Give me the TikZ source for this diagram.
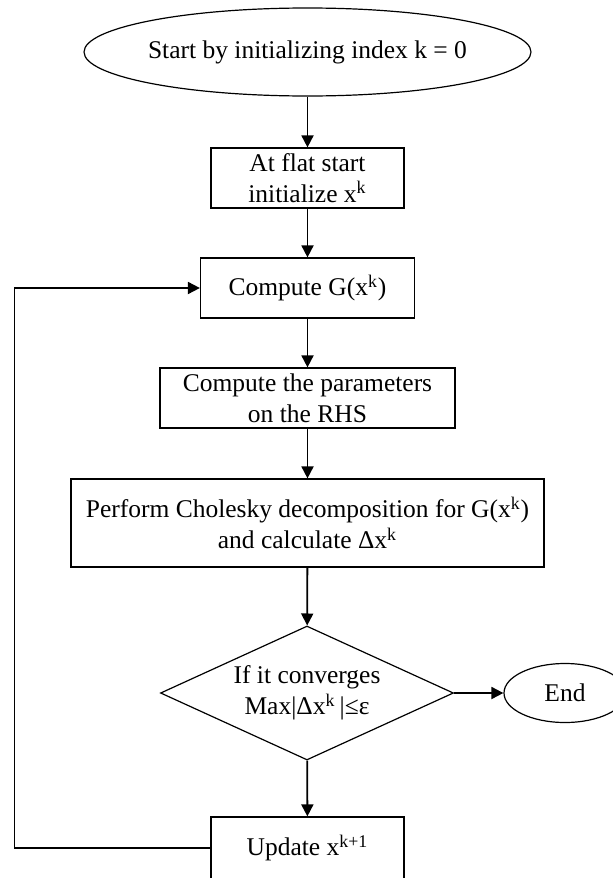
\documentclass[tikz,border=0pt]{standalone}
\usepackage{fontspec}
\setmainfont{Liberation Serif}
\usetikzlibrary{shapes.geometric,arrows.meta}

\begin{document}
\begin{tikzpicture}[
  x=0.5pt, y=-0.5pt,
  txt/.style={font=\fontsize{12.75pt}{15.5pt}\selectfont, align=center},
  procbox/.style={txt, draw, line width=0.6pt, rectangle, inner sep=2pt,
                  minimum width=#1, minimum height=30pt},
  terminal/.style={txt, draw, line width=0.6pt, ellipse, inner sep=0pt},
  decision/.style={txt, draw, line width=0.6pt, diamond, inner sep=0pt,
                   aspect=2.19, minimum width=146.5pt, minimum height=67pt},
  arr/.style={line width=0.9pt, -{Triangle[length=6pt,width=6pt]}},
  loopline/.style={line width=0.9pt}
]
\useasboundingbox (0,0) rectangle (613,878);

% terminals, process steps and the convergence test
\node[terminal, minimum width=223.5pt, minimum height=44pt] (start) at (307.5,52)
  {\makebox[0pt]{Start by initializing index k = 0}};
\node[procbox=96.5pt] (init) at (307.5,178)
  {At flat start\\initialize x\textsuperscript{k}};
\node[procbox=107pt] (gmat) at (307.5,288)
  {Compute G(x\textsuperscript{k})};
\node[procbox=147.5pt] (rhs) at (307.5,398)
  {Compute the parameters\\on the RHS};
\node[procbox=236.5pt, minimum height=44pt] (chol) at (307.5,523)
  {Perform Cholesky decomposition for G(x\textsuperscript{k})\\and calculate Δx\textsuperscript{k}};
\node[decision] (conv) at (307,693)
  {If it converges\\Max|Δx\textsuperscript{k}\,|≤ε};
\node[terminal, minimum width=61pt, minimum height=29.5pt] (stop) at (565,693)
  {End};
\node[procbox=96.5pt, minimum height=31pt] (upd) at (307.5,848)
  {Update x\textsuperscript{k+1}};

% main flow
\draw[arr] (start) -- (init);
\draw[arr] (init) -- (gmat);
\draw[arr] (gmat) -- (rhs);
\draw[arr] (rhs) -- (chol);
\draw[arr] (chol) -- (conv);
\draw[arr] (conv) -- (upd);
\draw[arr] (conv) -- (stop);

% iteration loop back to the G(x^k) step
\coordinate (loopcorner) at (14.5,848);
\draw[arr] (upd.west) -- (loopcorner) |- (gmat.west);
\end{tikzpicture}
\end{document}
